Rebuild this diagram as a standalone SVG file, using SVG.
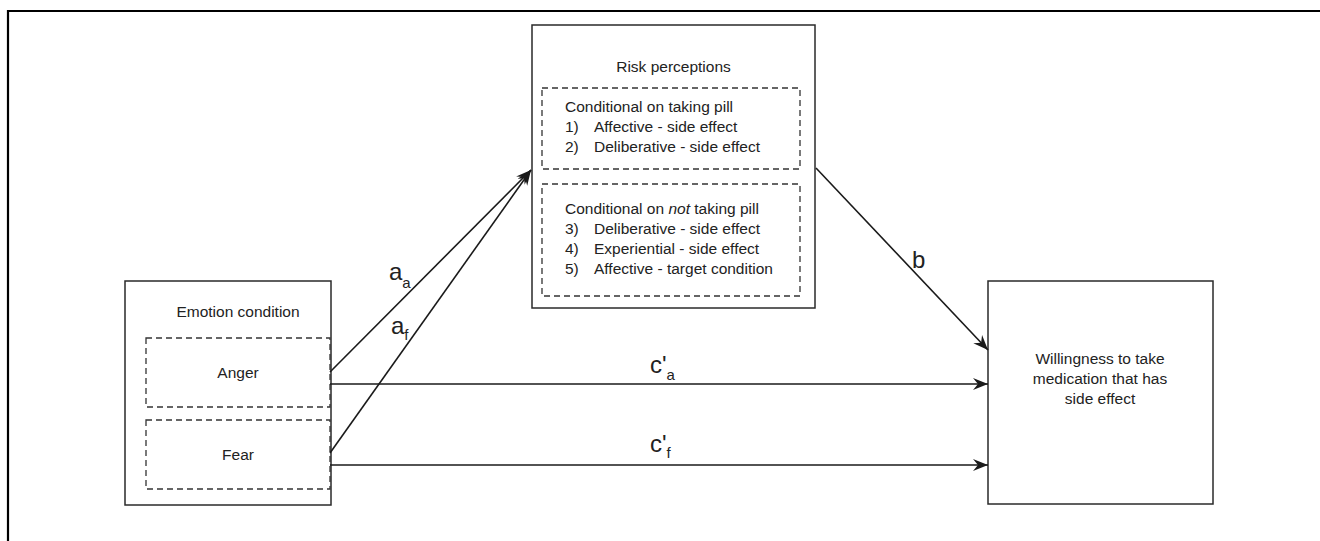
<svg xmlns="http://www.w3.org/2000/svg" width="1320" height="541" viewBox="0 0 1320 541">
<style>
  .box { fill: #fff; stroke: #2a2a2a; stroke-width: 1.5; }
  .dash { fill: none; stroke: #333; stroke-width: 1.3; stroke-dasharray: 6 4; }
  .t { font-family: "Liberation Sans", Arial, sans-serif; font-size: 15.5px; fill: #222; }
  .lbl { font-family: "Liberation Sans", Arial, sans-serif; font-size: 24px; fill: #222; }
  .sub { font-size: 15px; }
  .conn { stroke: #1a1a1a; stroke-width: 1.6; fill: none; marker-end: url(#arr); }
</style>
<defs>
  <marker id="arr" markerUnits="userSpaceOnUse" markerWidth="18" markerHeight="14" refX="15" refY="6" orient="auto">
    <path d="M0,0 L15,6 L0,12 L5,6 Z" fill="#1a1a1a"/>
  </marker>
</defs>
<rect width="1320" height="541" fill="#fff"/>
<path d="M8,541 L8,11 L1320,11" fill="none" stroke="#000" stroke-width="2.2"/>

<g id="risk">
  <rect class="box" x="532" y="25" width="283" height="283"/>
  <text class="t" x="673.5" y="72" text-anchor="middle">Risk perceptions</text>
  <rect class="dash" x="542" y="88" width="258" height="81"/>
  <text class="t" x="565" y="112">Conditional on taking pill</text>
  <text class="t" x="565" y="132">1)</text><text class="t" x="594" y="132">Affective - side effect</text>
  <text class="t" x="565" y="152">2)</text><text class="t" x="594" y="152">Deliberative - side effect</text>
  <rect class="dash" x="542" y="184" width="258" height="112"/>
  <text class="t" x="565" y="214">Conditional on <tspan font-style="italic">not</tspan> taking pill</text>
  <text class="t" x="565" y="234">3)</text><text class="t" x="594" y="234">Deliberative - side effect</text>
  <text class="t" x="565" y="254">4)</text><text class="t" x="594" y="254">Experiential - side effect</text>
  <text class="t" x="565" y="274">5)</text><text class="t" x="594" y="274">Affective - target condition</text>
</g>

<g id="emotion">
  <rect class="box" x="125" y="281" width="206" height="224"/>
  <text class="t" x="238" y="317" text-anchor="middle">Emotion condition</text>
  <rect class="dash" x="146" y="338" width="184" height="69"/>
  <text class="t" x="238" y="378" text-anchor="middle">Anger</text>
  <rect class="dash" x="146" y="420" width="184" height="69"/>
  <text class="t" x="238" y="460" text-anchor="middle">Fear</text>
</g>

<g id="willingness">
  <rect class="box" x="988" y="281" width="225" height="223"/>
  <text class="t" x="1100" y="364" text-anchor="middle">Willingness to take</text>
  <text class="t" x="1100" y="384" text-anchor="middle">medication that has</text>
  <text class="t" x="1100" y="404" text-anchor="middle">side effect</text>
</g>

<g id="connectors">
  <line class="conn" x1="330" y1="372" x2="531" y2="170"/>
  <line class="conn" x1="330" y1="453" x2="531" y2="170"/>
  <line class="conn" x1="330" y1="384" x2="988" y2="384"/>
  <line class="conn" x1="330" y1="465" x2="988" y2="465"/>
  <line class="conn" x1="816" y1="168" x2="988" y2="350"/>
  <text class="lbl" x="389" y="280">a<tspan class="sub" dy="8">a</tspan></text>
  <text class="lbl" x="391" y="334">a<tspan class="sub" dy="6">f</tspan></text>
  <text class="lbl" x="912" y="268">b</text>
  <text class="lbl" x="650" y="373">c'<tspan class="sub" dy="7">a</tspan></text>
  <text class="lbl" x="650" y="452">c'<tspan class="sub" dy="6">f</tspan></text>
</g>
</svg>
